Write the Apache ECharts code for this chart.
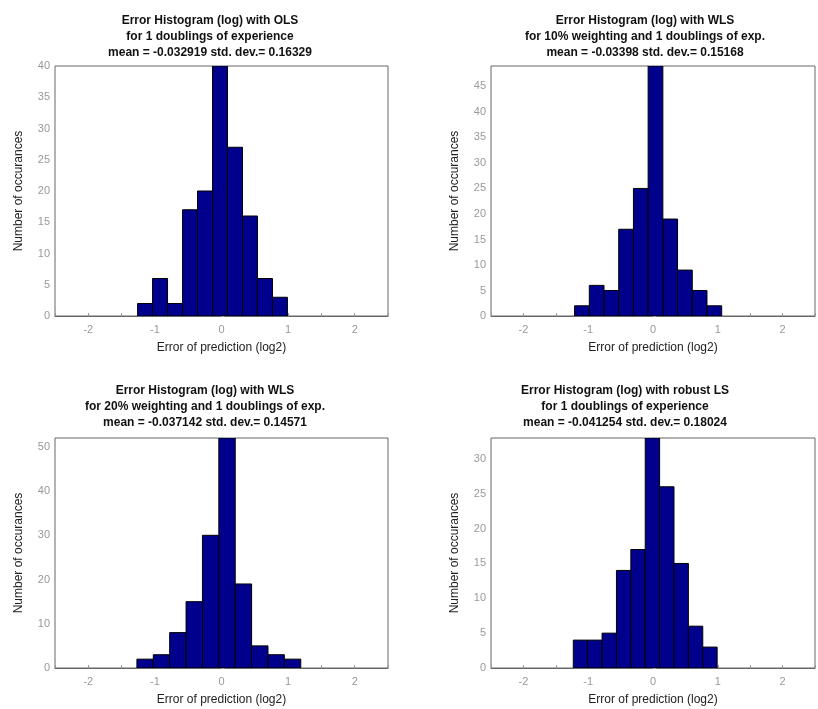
<!DOCTYPE html>
<html>
<head>
<meta charset="utf-8">
<script src="https://cdn.jsdelivr.net/npm/echarts@6/dist/echarts.min.js"></script>
<style>html,body{margin:0;padding:0;background:#fff}#chart{width:818px;height:709px}</style>
</head>
<body>
<div id="chart"></div>
<script>
// histogram data, one set per panel: first bin edge, bin width, counts
var titles = [
	'Error Histogram (log) with OLS\nfor 1 doublings of experience\nmean = -0.032919 std. dev.= 0.16329',
	'Error Histogram (log) with WLS\nfor 10% weighting and 1 doublings of exp.\nmean = -0.03398 std. dev.= 0.15168',
	'Error Histogram (log) with WLS\nfor 20% weighting and 1 doublings of exp.\nmean = -0.037142 std. dev.= 0.14571',
	'Error Histogram (log) with robust LS\nfor 1 doublings of experience\nmean = -0.041254 std. dev.= 0.18024'
];
var binStart = [-1.26, -1.21, -1.27, -1.23];
var binWidth = [0.225, 0.227, 0.246, 0.222];
var countsOLS = [2, 6, 2, 17, 20, 40, 27, 16, 6, 3];
var countsWLS10 = [2, 6, 5, 17, 25, 49, 19, 9, 5, 2];
var countsWLS20 = [2, 3, 8, 15, 30, 52, 19, 5, 3, 2];
var countsRobust = [4, 4, 5, 14, 17, 33, 26, 15, 6, 3];
var counts = [countsOLS, countsWLS10, countsWLS20, countsRobust];
var yMax = [40, 49, 52, 33];
var yStep = [5, 5, 10, 5];
var xTicks = [-2, -1, 0, 1, 2];

var grids = [
	{left: 55, top: 66, width: 333, height: 250},
	{left: 491, top: 66, width: 330, height: 250},
	{left: 55, top: 438, width: 333, height: 230},
	{left: 491, top: 438, width: 330, height: 230}
];
var titlePos = [[205, 8], [640, 8], [200, 378], [620, 378]];

var option = {
	animation: false,
	title: [], grid: [], xAxis: [], yAxis: [], series: []
};
grids.forEach(function(g, i) {
	option.grid.push({left: g.left, top: g.top, width: g.width, height: g.height,
		show: true, borderColor: '#666', borderWidth: 1, backgroundColor: '#fff'});
	option.title.push({text: titles[i], left: titlePos[i][0], top: titlePos[i][1], textAlign: 'center',
		textStyle: {fontFamily: 'Liberation Sans', fontSize: 12, fontWeight: 'bold', color: '#111', lineHeight: 16}});
	option.xAxis.push({type: 'value', gridIndex: i, min: -2.5, max: 2.5, interval: 0.5,
		name: 'Error of prediction (log2)', nameLocation: 'middle', nameGap: 26,
		nameTextStyle: {fontFamily: 'Liberation Sans', fontSize: 12, color: '#222'},
		axisLine: {lineStyle: {color: '#666'}},
		axisTick: {inside: true, length: 3, lineStyle: {color: '#999'}},
		splitLine: {show: false},
		axisLabel: {color: '#999', fontSize: 11, fontFamily: 'Liberation Sans',
			formatter: function(v) { return xTicks.indexOf(v) >= 0 ? String(v) : ''; }}});
	option.yAxis.push({type: 'value', gridIndex: i, min: 0, max: yMax[i], interval: yStep[i],
		name: 'Number of occurances', nameLocation: 'middle', nameGap: 30,
		nameTextStyle: {fontFamily: 'Liberation Sans', fontSize: 12, color: '#222'},
		axisLine: {show: true, lineStyle: {color: '#666'}},
		axisTick: {show: true, inside: true, length: 3, lineStyle: {color: '#999'}},
		splitLine: {show: false},
		axisLabel: {color: '#999', fontSize: 11, fontFamily: 'Liberation Sans', margin: 5,
			showMaxLabel: yMax[i] % yStep[i] === 0}});
	var data = counts[i].map(function(c, k) {
		var x0 = binStart[i] + k * binWidth[i];
		return [x0, x0 + binWidth[i], c];
	});
	option.series.push({type: 'custom', xAxisIndex: i, yAxisIndex: i, data: data, clip: true,
		renderItem: function(params, api) {
			var p0 = api.coord([api.value(0), api.value(2)]);
			var p1 = api.coord([api.value(1), 0]);
			return {type: 'rect', shape: {x: p0[0], y: p0[1], width: p1[0] - p0[0], height: p1[1] - p0[1]},
				style: {fill: '#00008c', stroke: '#000', lineWidth: 1}};
		}});
});

var myChart = echarts.init(document.getElementById('chart'));
myChart.setOption(option);
</script>
</body>
</html>
